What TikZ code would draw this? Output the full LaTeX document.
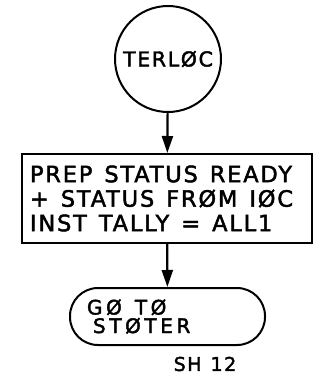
\documentclass[tikz,border=0pt]{standalone}
\usepackage{fontspec}
\usepackage{tikz}
\usetikzlibrary{arrows.meta}
\newfontfamily\letterfont{DejaVu Sans}[LetterSpace=8,FakeBold=2]
\DeclareRobustCommand\wordgap[1]{\spaceskip=#1\relax\xspaceskip=#1\relax}

\begin{document}
\begin{tikzpicture}[
    x=1pt, y=-1pt,
    startcircle/.style={draw, circle, line width=2pt, minimum size=106pt, inner sep=0pt, font={\letterfont\fontsize{20.5}{22}\selectfont}},
    stepbox/.style={draw, rectangle, line width=2pt, minimum width=290pt, minimum height=89pt, text width=274pt, inner xsep=8pt, align=left, font={\letterfont\fontsize{22.5}{24.5}\selectfont}, execute at begin node={\wordgap{12pt}}},
    endbox/.style={draw, rectangle, rounded corners=28pt, line width=2pt, minimum width=195pt, minimum height=57pt, text width=161pt, inner xsep=17pt, align=left, font={\letterfont\fontsize{20}{18.5}\selectfont\addfontfeatures{LetterSpace=18}}, execute at begin node={\wordgap{13pt}}},
    pagelabel/.style={font={\letterfont\fontsize{19}{19}\selectfont\addfontfeatures{LetterSpace=8}\wordgap{9pt}}},
    flowline/.style={line width=2.2pt, -{Triangle[length=17pt,width=11pt]}}
]
\useasboundingbox (0,0) rectangle (327,380);

\node[startcircle] (terloc) at (168,59) {TERLØC};
\node[stepbox] (prep) at (167,198.5) {PREP STATUS READY\\+ STATUS FRØM IØC\\INST TALLY = ALL1};
\node[endbox] (goto) at (167.5,316.5) {GØ TØ\\\hspace*{6pt}STØTER};
\node[pagelabel] (sheet) at (205,364) {SH 12};

\draw[flowline] (terloc) -- (prep);
\draw[flowline] (prep) -- (goto);

\end{tikzpicture}
\end{document}
